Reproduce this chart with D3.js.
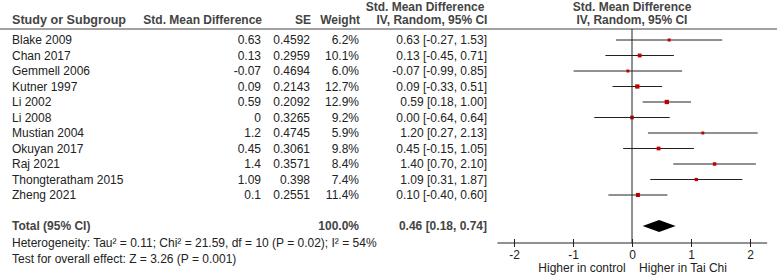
<!DOCTYPE html>
<html><head><meta charset="utf-8">
<script src="https://cdn.jsdelivr.net/npm/d3@7"></script>
<style>
body{margin:0;background:#fff;}
text{font-family:"Liberation Sans",Arial,sans-serif;font-size:12px;fill:#222;}
.hdr{font-weight:bold;fill:#444;}
</style></head>
<body>
<script>
const studies = ["Blake 2009","Chan 2017","Gemmell 2006","Kutner 1997","Li 2002","Li 2008","Mustian 2004","Okuyan 2017","Raj 2021","Thongteratham 2015","Zheng 2021"];
const smd = [0.63,0.13,-0.07,0.09,0.59,0,1.2,0.45,1.4,1.09,0.1];
const se = [0.4592,0.2959,0.4694,0.2143,0.2092,0.3265,0.4745,0.3061,0.3571,0.398,0.2551];
const weight = [6.2,10.1,6.0,12.7,12.9,9.2,5.9,9.8,8.4,7.4,11.4];
const ciLow = [-0.27,-0.45,-0.99,-0.33,0.18,-0.64,0.27,-0.15,0.70,0.31,-0.40];
const ciHigh = [1.53,0.71,0.85,0.51,1.00,0.64,2.13,1.05,2.10,1.87,0.60];
const total = {est:0.46, lo:0.18, hi:0.74, weight:100.0};
const heterogeneity = "Heterogeneity: Tau² = 0.11; Chi² = 21.59, df = 10 (P = 0.02); I² = 54%";
const overall = "Test for overall effect: Z = 3.26 (P = 0.001)";
const tickValues = [-2,-1,0,1,2];
const favLeft = "Higher in control", favRight = "Higher in Tai Chi";

const W=777,H=275;
const svg=d3.select("body").append("svg").attr("width",W).attr("height",H);
const x=d3.scaleLinear().domain([-2,2]).range([514,750]);
const y=d3.scaleLinear().domain([0,1]).range([40,55.5]);
const f2=d3.format(".2f");
const ci=(e,l,h)=>`${f2(e)} [${f2(l)}, ${f2(h)}]`.replace(/\u2212/g,"-");

// headers
const hy=24, hy1=10.5;
svg.append("text").attr("class","hdr").attr("x",12).attr("y",hy).style("font-size","12.6px").text("Study or Subgroup");
svg.append("text").attr("class","hdr").attr("x",262).attr("y",hy).attr("text-anchor","end").text("Std. Mean Difference");
svg.append("text").attr("class","hdr").attr("x",311).attr("y",hy).attr("text-anchor","end").text("SE");
svg.append("text").attr("class","hdr").attr("x",360).attr("y",hy).attr("text-anchor","end").text("Weight");
svg.append("text").attr("class","hdr").attr("x",425).attr("y",hy1).attr("text-anchor","middle").text("Std. Mean Difference");
svg.append("text").attr("class","hdr").attr("x",432).attr("y",hy).attr("text-anchor","middle").text("IV, Random, 95% CI");
svg.append("text").attr("class","hdr").attr("x",632).attr("y",hy1).attr("text-anchor","middle").text("Std. Mean Difference");
svg.append("text").attr("class","hdr").attr("x",632).attr("y",hy).attr("text-anchor","middle").text("IV, Random, 95% CI");
svg.append("line").attr("x1",0).attr("x2",W).attr("y1",29).attr("y2",29).attr("stroke","#444");

// rows
const rows=svg.append("g").selectAll("g").data(studies).join("g")
  .attr("transform",(d,i)=>`translate(0,${y(i)})`);
rows.append("text").attr("x",12).attr("dy","0.35em").text(d=>d);
rows.append("text").attr("x",261).attr("dy","0.35em").attr("text-anchor","end").text((d,i)=>String(smd[i]));
rows.append("text").attr("x",310).attr("dy","0.35em").attr("text-anchor","end").text((d,i)=>String(se[i]));
rows.append("text").attr("x",359).attr("dy","0.35em").attr("text-anchor","end").text((d,i)=>weight[i].toFixed(1)+"%");
rows.append("text").attr("x",487).attr("dy","0.35em").attr("text-anchor","end").text((d,i)=>ci(smd[i],ciLow[i],ciHigh[i]));

// zero line
svg.append("line").attr("x1",x(0)).attr("x2",x(0)).attr("y1",29).attr("y2",243).attr("stroke","#222");

rows.append("line").attr("x1",(d,i)=>x(ciLow[i])).attr("x2",(d,i)=>x(ciHigh[i]))
  .attr("stroke","#222").attr("stroke-width",1);
rows.append("rect").each(function(d,i){
  const s=1.2*Math.sqrt(weight[i]);
  d3.select(this).attr("x",x(smd[i])-s/2).attr("y",-s/2).attr("width",s).attr("height",s).attr("fill","#c00000");
});

// total
const tY=226;
svg.append("text").attr("class","hdr").attr("x",12).attr("y",tY).attr("dy","0.35em").text("Total (95% CI)");
svg.append("text").attr("class","hdr").attr("x",359).attr("y",tY).attr("dy","0.35em").attr("text-anchor","end").text(total.weight.toFixed(1)+"%");
svg.append("text").attr("class","hdr").attr("x",487).attr("y",tY).attr("dy","0.35em").attr("text-anchor","end").text(ci(total.est,total.lo,total.hi));
svg.append("path").attr("d",`M${x(total.lo)},${tY}L${x(total.est)},${tY-6}L${x(total.hi)},${tY}L${x(total.est)},${tY+6}Z`).attr("fill","#000");

svg.append("text").attr("x",12).attr("y",243).attr("dy","0.35em").text(heterogeneity);
svg.append("text").attr("x",12).attr("y",259).attr("dy","0.35em").text(overall);

// axis
const ax=svg.append("g").attr("transform","translate(0,239)")
  .call(d3.axisBottom(x).tickValues(tickValues).tickSize(8).tickSizeOuter(0).tickFormat(d=>String(d)));
ax.select(".domain").remove();
ax.selectAll(".tick line").attr("stroke","#222");
ax.selectAll(".tick text").style("font-size","12px").style("font-family","'Liberation Sans',Arial,sans-serif").attr("fill","#222");
svg.append("line").attr("x1",x(-2.28)).attr("x2",x(2.29)).attr("y1",243).attr("y2",243).attr("stroke","#222");
svg.append("text").attr("x",582).attr("y",268).attr("dy","0.35em").attr("text-anchor","middle").text(favLeft);
svg.append("text").attr("x",683).attr("y",268).attr("dy","0.35em").attr("text-anchor","middle").text(favRight);
</script>
</body></html>
